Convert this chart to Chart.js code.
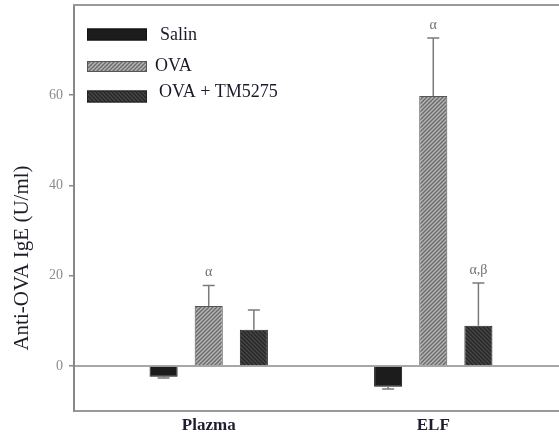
<!DOCTYPE html>
<html>
<head>
<meta charset="utf-8">
<script src="https://cdn.jsdelivr.net/npm/chart.js@4/dist/chart.umd.min.js"></script>
<style>
  html, body { margin: 0; padding: 0; background: #fff; overflow: hidden; }
  #wrap { width: 580px; height: 439px; position: relative; }
</style>
</head>
<body>
<div id="wrap"><canvas id="c"></canvas></div>
<script>
// Groups and their positions along the x axis
const categories = ['Plazma', 'ELF'];
const positions = [1, 2];

// Anti-OVA IgE (U/ml), mean values
const salin = [-2.4, -4.6];
const ova = [13.3, 59.8];
const ovaTm = [8.0, 8.9];

// Error (one side, away from zero)
const salinErr = [0.3, 0.5];
const ovaErr = [4.5, 12.9];
const ovaTmErr = [4.4, 9.5];

// Significance marks above the error caps
const salinMarks = ['', ''];
const ovaMarks = ['α', 'α'];
const ovaTmMarks = ['', 'α,β'];

const seriesNames = ['Salin', 'OVA', 'OVA + TM5275'];
const yTicks = [0, 20, 40, 60];

const serif = '"Liberation Serif", "DejaVu Serif", serif';

function hatch(bg, fg, back) {
  const c = document.createElement('canvas');
  c.width = 4; c.height = 4;
  const g = c.getContext('2d');
  g.fillStyle = bg;
  g.fillRect(0, 0, 4, 4);
  g.strokeStyle = fg;
  g.lineWidth = 1.4;
  g.beginPath();
  if (back) {
    g.moveTo(0, 0); g.lineTo(4, 4);
    g.moveTo(-1, 3); g.lineTo(1, 5);
    g.moveTo(3, -1); g.lineTo(5, 1);
  } else {
    g.moveTo(0, 4); g.lineTo(4, 0);
    g.moveTo(-1, 1); g.lineTo(1, -1);
    g.moveTo(3, 5); g.lineTo(5, 3);
  }
  g.stroke();
  return document.getElementById('c').getContext('2d').createPattern(c, 'repeat');
}

const ovaFill = hatch('#b6b6b6', '#6a6a6a', false);
const tmFill = hatch('#474747', '#262626', true);

const errors = [salinErr, ovaErr, ovaTmErr];
const marks = [salinMarks, ovaMarks, ovaTmMarks];

// Error bars, significance marks, zero line, frame, y title and legend
const decorations = {
  id: 'decorations',
  beforeDatasetsDraw(chart) {
    const { ctx, chartArea: a, scales: { y } } = chart;
    ctx.save();
    ctx.strokeStyle = '#8a8a8a';
    ctx.lineWidth = 1.5;
    const y0 = y.getPixelForValue(0);
    ctx.beginPath();
    ctx.moveTo(a.left, y0);
    ctx.lineTo(a.right, y0);
    ctx.stroke();
    ctx.strokeStyle = '#999';
    ctx.lineWidth = 2;
    ctx.beginPath();
    ctx.moveTo(a.left - 1, a.top);
    ctx.lineTo(a.right, a.top);
    ctx.stroke();
    ctx.restore();
  },
  afterDatasetsDraw(chart) {
    const { ctx, scales: { y } } = chart;
    ctx.save();
    chart.data.datasets.forEach((ds, di) => {
      const meta = chart.getDatasetMeta(di);
      meta.data.forEach((bar, i) => {
        const v = ds.data[i];
        const e = errors[di][i];
        const tip = v >= 0 ? v + e : v - e;
        const yv = y.getPixelForValue(v);
        const ye = y.getPixelForValue(tip);
        ctx.strokeStyle = '#7a7a7a';
        ctx.lineWidth = 1.5;
        ctx.beginPath();
        ctx.moveTo(bar.x, yv);
        ctx.lineTo(bar.x, ye);
        ctx.moveTo(bar.x - 6, ye);
        ctx.lineTo(bar.x + 6, ye);
        ctx.stroke();
        const m = marks[di][i];
        if (m) {
          ctx.fillStyle = '#707070';
          ctx.font = '14px ' + serif;
          ctx.textAlign = 'center';
          ctx.textBaseline = 'middle';
          ctx.fillText(m, bar.x, ye - 13);
        }
      });
    });

    // y axis title
    ctx.fillStyle = '#1e1e28';
    ctx.font = '21px ' + serif;
    ctx.textAlign = 'center';
    ctx.textBaseline = 'middle';
    ctx.translate(22, 258);
    ctx.rotate(-Math.PI / 2);
    ctx.fillText('Anti-OVA IgE (U/ml)', 0, 0);
    ctx.setTransform(1, 0, 0, 1, 0, 0);

    // legend
    const rows = [34.5, 66.5, 96.5];
    const textX = [160, 155, 159];
    const textY = [35, 66, 92];
    chart.data.datasets.forEach((ds, di) => {
      const h = di === 1 ? 11 : 12;
      ctx.fillStyle = ds.backgroundColor;
      ctx.fillRect(87, rows[di] - h / 2, 60, h);
      ctx.strokeStyle = ds.borderColor;
      ctx.lineWidth = 1;
      ctx.strokeRect(87.5, rows[di] - h / 2 + 0.5, 59, h - 1);
      ctx.fillStyle = '#1a1a2a';
      ctx.font = '18px ' + serif;
      ctx.textAlign = 'left';
      ctx.textBaseline = 'middle';
      ctx.fillText(ds.label, textX[di], textY[di]);
    });
    ctx.restore();
  }
};

new Chart(document.getElementById('c'), {
  type: 'bar',
  data: {
    labels: positions,
    datasets: [
      { label: seriesNames[0], data: salin, backgroundColor: '#1c1c1c', borderColor: '#111', borderWidth: 1 },
      { label: seriesNames[1], data: ova, backgroundColor: ovaFill, borderColor: '#555', borderWidth: 1 },
      { label: seriesNames[2], data: ovaTm, backgroundColor: tmFill, borderColor: '#222', borderWidth: 1 }
    ]
  },
  options: {
    responsive: true,
    maintainAspectRatio: false,
    animation: false,
    devicePixelRatio: 1,
    categoryPercentage: 0.603,
    barPercentage: 0.622,
    layout: { padding: { top: 5, right: 12, left: 0, bottom: 0 } },
    plugins: { legend: { display: false }, tooltip: { enabled: false } },
    scales: {
      x: {
        type: 'linear',
        min: 0.4,
        max: 2.6,
        offset: false,
        grid: { display: false },
        border: { display: true, color: '#999', width: 2 },
        afterBuildTicks(scale) { scale.ticks = positions.map(v => ({ value: v })); },
        afterFit(scale) { scale.height = 28; scale.paddingLeft = 0; scale.paddingRight = 0; },
        ticks: {
          padding: -4,
          color: '#1e1e30',
          font: { family: serif, size: 17, weight: 'bold' },
          callback: (v) => categories[positions.indexOf(v)] || ''
        }
      },
      y: {
        min: -10,
        max: 80,
        grid: { drawOnChartArea: false, drawTicks: true, tickLength: 5, color: '#888', lineWidth: 1.5 },
        border: { display: true, color: '#888', width: 2 },
        afterBuildTicks(scale) { scale.ticks = yTicks.map(v => ({ value: v })); },
        afterFit(scale) { scale.width = 74; scale.paddingTop = 0; scale.paddingBottom = 0; },
        ticks: {
          padding: 6,
          color: '#8c8c8c',
          font: { family: serif, size: 14 }
        }
      }
    }
  },
  plugins: [decorations]
});
</script>
</body>
</html>
